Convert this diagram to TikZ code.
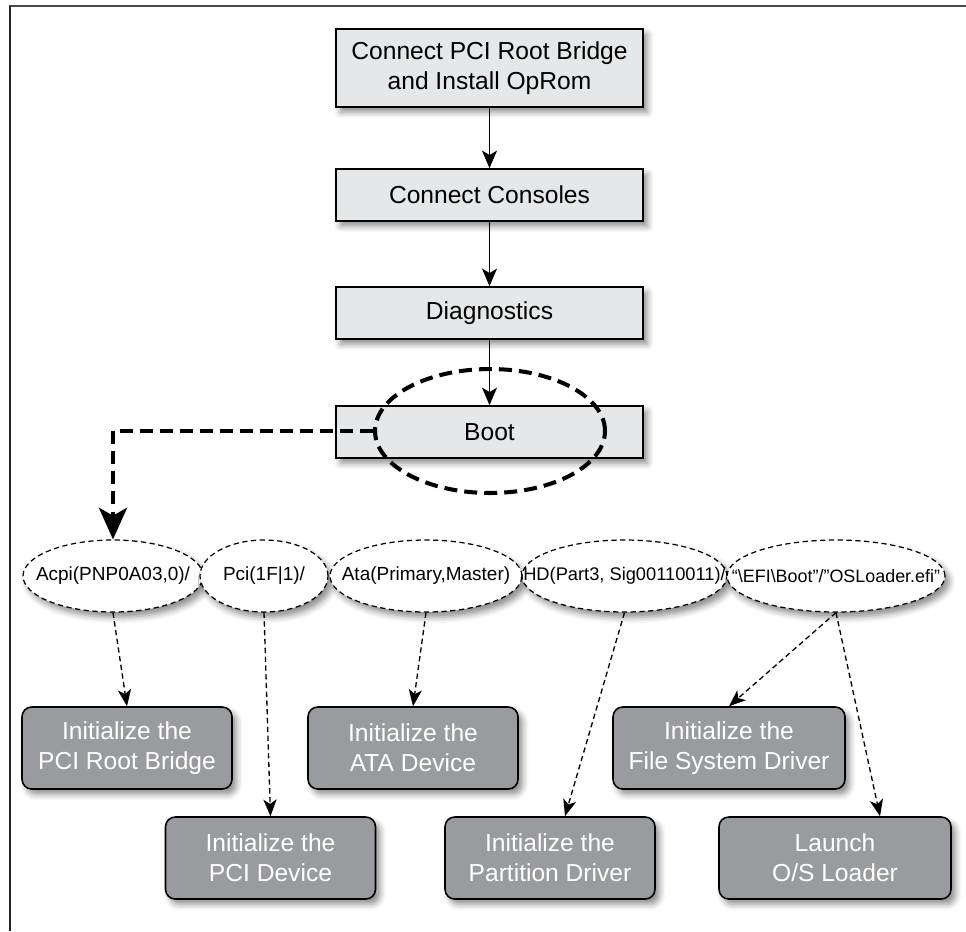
\documentclass[tikz,border=0pt]{standalone}
\usepackage{fontspec}
\setmainfont{Liberation Sans}
\usepackage{tikz}
\usetikzlibrary{arrows.meta, positioning, shapes.geometric, shadows.blur}

\definecolor{stepgray}{HTML}{E6E7E8}
\definecolor{taskgray}{HTML}{9A9B9E}
\definecolor{framegray}{HTML}{4A4A4A}

\newcommand{\devpath}[1]{\makebox[0pt]{#1}}

\begin{document}
\begin{tikzpicture}[x=0.02cm, y=-0.02cm,
  softshadow/.style={blur shadow={shadow xshift=2.5pt, shadow yshift=-3pt,
    shadow blur radius=3.5pt, shadow opacity=45}},
  stepbox/.style={rectangle, draw=black, line width=0.9pt, fill=stepgray,
    minimum width=6.14cm, minimum height=1.04cm, align=center,
    font=\fontsize{14}{17}\selectfont, softshadow},
  taskbox/.style={rectangle, rounded corners=5.5pt, draw=black, line width=0.9pt,
    fill=taskgray, text=white, minimum width=4.2cm, minimum height=1.64cm,
    align=center, font=\fontsize{14}{17}\selectfont, softshadow},
  pathnode/.style={ellipse, draw=black, line width=0.7pt,
    dash pattern=on 3pt off 2pt, fill=white, minimum height=1.44cm,
    inner sep=0pt, font=\fontsize{10.8}{12}\selectfont, softshadow},
  flowarrow/.style={-{Stealth[length=10pt, width=8.5pt, inset=2.5pt]}, line width=1.1pt},
  maparrow/.style={-{Stealth[length=9.5pt, width=7.5pt, inset=2.5pt]}, line width=0.75pt,
    dash pattern=on 3pt off 2pt},
  bootpath/.style={line width=2.3pt, dash pattern=on 7.4pt off 4pt}]

  \useasboundingbox (0,0) rectangle (966,931);

  % Frame
  \draw[framegray, line width=1.1pt] (9,6) -- (966,6);
  \draw[black!85, line width=0.9pt] (10,6) -- (10,931);

  % Boot flow
  \node[stepbox, minimum height=1.56cm] (root) at (489.5,68)
    {Connect PCI Root Bridge\\and Install OpRom};
  \node[stepbox] (consoles) at (489.5,195) {Connect Consoles};
  \node[stepbox] (diag) at (489.5,313) {Diagnostics};
  \node[stepbox] (boot) at (489.5,432) {Boot};

  \draw[flowarrow] (root) -- (consoles);
  \draw[flowarrow] (consoles) -- (diag);
  \draw[flowarrow] (diag) -- (boot);

  % Ring round Boot
  \node[ellipse, draw=black, bootpath, minimum width=4.6cm, minimum height=2.48cm,
    inner sep=0pt] (bootring) at (490,431) {};

  % Device path
  \node[pathnode, minimum width=3.6cm] (acpi) at (113,576) {\devpath{Acpi(PNP0A03,0)/}};
  \node[pathnode, minimum width=2.56cm] (pci) at (264,576) {\devpath{Pci(1F|1)/}};
  \node[pathnode, minimum width=3.84cm] (ata) at (426,576) {\devpath{Ata(Primary,Master)}};
  \node[pathnode, minimum width=4.1cm, font=\fontsize{10.4}{12}\selectfont] (hd) at (624.5,576)
    {\devpath{HD(Part3, Sig00110011)/}};
  \node[pathnode, minimum width=4.36cm, font=\fontsize{10.2}{12}\selectfont] (efi) at (836,576)
    {\devpath{“\textbackslash EFI\textbackslash Boot”/”OSLoader.efi”}};

  \draw[bootpath, -{Stealth[length=18pt, width=16pt, inset=4.5pt]}]
    (bootring.west) -| (acpi.north);

  % Actions
  \node[taskbox] (rootbridge) at (127,748) {Initialize the\\PCI Root Bridge};
  \node[taskbox] (atadev) at (413,748) {Initialize the\\ATA Device};
  \node[taskbox, minimum width=4.64cm] (fsdrv) at (729,748) {Initialize the\\File System Driver};
  \node[taskbox] (pcidev) at (270.5,858) {Initialize the\\PCI Device};
  \node[taskbox] (partdrv) at (550,858) {Initialize the\\Partition Driver};
  \node[taskbox, minimum width=4.64cm] (osload) at (835,858) {Launch\\O/S Loader};

  \draw[maparrow] (acpi.south) -- (rootbridge.north);
  \draw[maparrow] (pci.south) -- (pcidev.north);
  \draw[maparrow] (ata.south) -- (atadev.north);
  \draw[maparrow] (hd.south) -- ([xshift=0.3cm]partdrv.north);
  \draw[maparrow] (efi.south) -- (fsdrv.north);
  \draw[maparrow] (efi.south) -- ([xshift=0.9cm]osload.north);
\end{tikzpicture}
\end{document}
